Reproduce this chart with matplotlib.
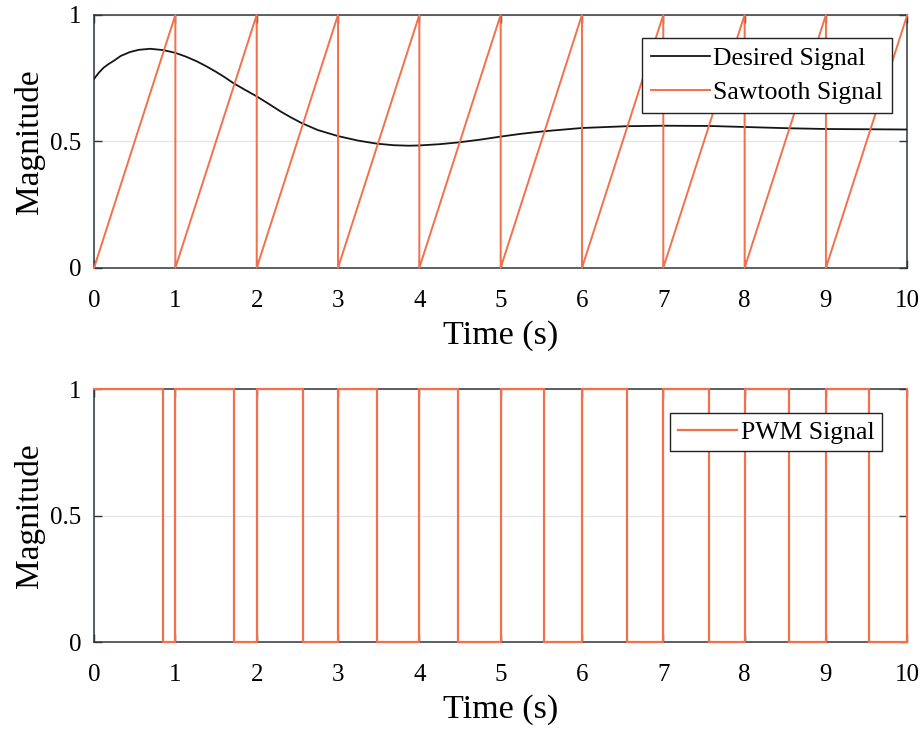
import matplotlib
matplotlib.use("Agg")
import matplotlib.pyplot as plt

# ---- data ----
desired_t = [0.0, 0.06, 0.12, 0.18, 0.24, 0.33, 0.44, 0.55, 0.69, 0.85, 1.0, 1.13, 1.26,
             1.38, 1.5, 1.61, 1.71, 1.85, 2.0, 2.15, 2.29, 2.42, 2.55, 2.75, 3.0, 3.25,
             3.48, 3.68, 3.87, 4.0, 4.25, 4.48, 4.75, 5.0, 5.25, 5.53, 6.0, 6.55, 7.0,
             7.56, 8.0, 8.54, 9.0, 9.5, 10.0]
desired_v = [0.747, 0.772, 0.792, 0.806, 0.818, 0.838, 0.853, 0.862, 0.866, 0.861, 0.85,
             0.835, 0.817, 0.797, 0.775, 0.753, 0.731, 0.705, 0.678, 0.648, 0.619, 0.595,
             0.573, 0.545, 0.521, 0.503, 0.491, 0.485, 0.483, 0.484, 0.489, 0.496, 0.507,
             0.519, 0.53, 0.54, 0.553, 0.56, 0.562, 0.561, 0.557, 0.552, 0.549, 0.548,
             0.547]

saw_t = [0, 1, 1, 2, 2, 3, 3, 4, 4, 5, 5, 6, 6, 7, 7, 8, 8, 9, 9, 10]
saw_v = [0, 1, 0, 1, 0, 1, 0, 1, 0, 1, 0, 1, 0, 1, 0, 1, 0, 1, 0, 1]

pwm_edges = [0, 0.845, 1, 1.72, 2, 2.57, 3, 3.48, 4, 4.48, 5, 5.53, 6, 6.55, 7, 7.56,
             8, 8.54, 9, 9.53, 10]
pwm_levels = [1, 0, 1, 0, 1, 0, 1, 0, 1, 0, 1, 0, 1, 0, 1, 0, 1, 0, 1, 0, 1]

x_ticks = [0, 1, 2, 3, 4, 5, 6, 7, 8, 9, 10]
y_ticks = [0, 0.5, 1]
y_ticklabels = ["0", "0.5", "1"]
xlabel = "Time (s)"
ylabel = "Magnitude"

ORANGE = "#F4704B"
BLACK = "#151515"
SPINE = "#30363c"

plt.rcParams["font.family"] = ["Liberation Serif", "DejaVu Serif"]

fig = plt.figure(figsize=(9.22, 7.3), dpi=100)
ax1 = fig.add_axes([0.102, 0.633, 0.882, 0.3466])
ax2 = fig.add_axes([0.102, 0.1205, 0.882, 0.3466])


def style(ax):
    ax.set_xlim(0, 10)
    ax.set_ylim(0, 1)
    ax.set_xticks(x_ticks)
    ax.set_yticks(y_ticks)
    ax.set_yticklabels(y_ticklabels)
    ax.tick_params(direction="in", length=6, width=1, color=SPINE, labelsize=18,
                   top=True, right=True)
    ax.tick_params(axis="x", pad=16)
    ax.tick_params(axis="y", pad=9)
    ax.grid(True, color="#e3e6e8", linewidth=0.9)
    ax.set_axisbelow(True)
    for s in ax.spines.values():
        s.set_color(SPINE)
        s.set_linewidth(1.1)
    ax.set_xlabel(xlabel, fontsize=24.5, labelpad=6)
    ax.set_ylabel(ylabel, fontsize=24, labelpad=4)


style(ax1)
style(ax2)

ax1.plot(desired_t, desired_v, color=BLACK, lw=1.3, label="Desired Signal", zorder=3)
ax1.plot(saw_t, saw_v, color=ORANGE, lw=1.4, label="Sawtooth Signal", zorder=3,
         clip_on=False)
leg1 = ax1.legend(loc="upper right", bbox_to_anchor=(0.9815, 0.909), borderaxespad=0,
                  fontsize=18.5, fancybox=False, framealpha=1, edgecolor="#222222",
                  handlelength=2.3, handletextpad=0.15, borderpad=0.35,
                  labelspacing=0.45)
leg1.get_frame().set_linewidth(1.0)

ax2.step(pwm_edges, pwm_levels, where="post", color=ORANGE, lw=1.6, label="PWM Signal",
         zorder=3, clip_on=False)
leg2 = ax2.legend(loc="upper right", bbox_to_anchor=(0.969, 0.905), borderaxespad=0,
                  fontsize=18.5, fancybox=False, framealpha=1, edgecolor="#222222",
                  handlelength=2.3, handletextpad=0.15, borderpad=0.3)
leg2.get_frame().set_linewidth(1.0)

fig.savefig("out.png", dpi=100)
